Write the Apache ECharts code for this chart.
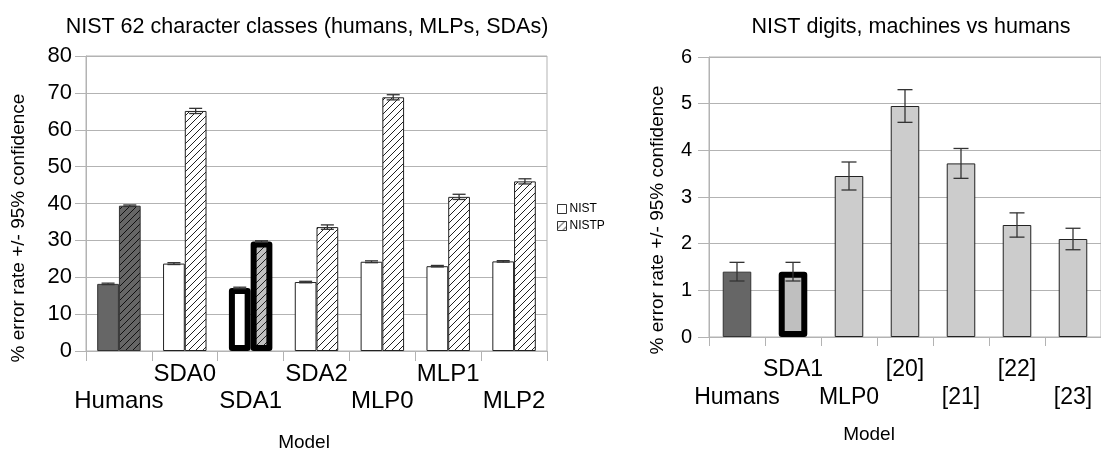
<!DOCTYPE html>
<html>
<head>
<meta charset="utf-8">
<script src="https://cdn.jsdelivr.net/npm/echarts@6/dist/echarts.min.js"></script>
<style>
html,body{margin:0;padding:0;background:#fff;}
#c{width:1101px;height:455px;}
</style>
</head>
<body>
<div id="c"></div>
<script>
// ---- data ----
const leftCategories = ['Humans','SDA0','SDA1','SDA2','MLP0','MLP1','MLP2'];
const nistValues  = [18.2, 23.7, 17.1, 18.7, 24.2, 23.0, 24.3];
const nistErr     = [0.2, 0.25, 0.2, 0.2, 0.25, 0.2, 0.2];
const nistpValues = [39.4, 65.1, 29.7, 33.6, 68.8, 41.8, 46.0];
const nistpErr    = [0.2, 0.7, 0.2, 0.6, 0.7, 0.7, 0.7];
const yLeftTicks  = [0,10,20,30,40,50,60,70,80];

const rightCategories = ['Humans','SDA1','MLP0','[20]','[21]','[22]','[23]'];
const digitValues = [1.4, 1.4, 3.45, 4.95, 3.72, 2.4, 2.1];
const digitErr    = [0.2, 0.2, 0.3, 0.35, 0.32, 0.26, 0.23];
const yRightTicks = [0,1,2,3,4,5,6];

const FONT = 'Liberation Sans, Arial, sans-serif';

function hatch(bg, fg) {
  const s = 7;
  const c = document.createElement('canvas');
  c.width = s; c.height = s;
  const g = c.getContext('2d');
  g.fillStyle = bg; g.fillRect(0,0,s,s);
  g.strokeStyle = fg; g.lineWidth = 1;
  g.beginPath();
  g.moveTo(0, s); g.lineTo(s, 0);
  g.moveTo(-1, 1); g.lineTo(1, -1);
  g.moveTo(s-1, s+1); g.lineTo(s+1, s-1);
  g.stroke();
  return {image: c, repeat: 'repeat'};
}

const whiteHatch = hatch('#ffffff', '#222222');
const darkHatch  = hatch('#666666', '#111111');
const greyHatch  = hatch('#c0c0c0', '#222222');

function styledNist(v, i) {
  if (i === 0) return {value: v, itemStyle: {color: '#666666', borderColor: '#333', borderWidth: 1}};
  if (i === 2) return {value: v, itemStyle: {color: '#ffffff', borderColor: '#000', borderWidth: 6, borderJoin: 'round'}};
  return v;
}
function styledNistp(v, i) {
  if (i === 0) return {value: v, itemStyle: {color: darkHatch, borderColor: '#333', borderWidth: 1}};
  if (i === 2) return {value: v, itemStyle: {color: greyHatch, borderColor: '#000', borderWidth: 6, borderJoin: 'round'}};
  return v;
}
function styledDigit(v, i) {
  if (i === 0) return {value: v, itemStyle: {color: '#666666', borderColor: '#333', borderWidth: 1}};
  if (i === 1) return {value: v, itemStyle: {color: '#bfbfbf', borderColor: '#000', borderWidth: 6, borderJoin: 'round'}};
  return v;
}

function errRenderer(offsetFrac, capHalf) {
  return function (params, api) {
    const i = api.value(0), lo = api.value(1), hi = api.value(2);
    const band = api.size([1, 0])[0];
    const pLo = api.coord([i, lo]), pHi = api.coord([i, hi]);
    const x = pLo[0] + offsetFrac * band;
    const st = {stroke: '#333', lineWidth: 1.3};
    return {type: 'group', children: [
      {type: 'line', shape: {x1: x, y1: pLo[1], x2: x, y2: pHi[1]}, style: st},
      {type: 'line', shape: {x1: x - capHalf, y1: pHi[1], x2: x + capHalf, y2: pHi[1]}, style: st},
      {type: 'line', shape: {x1: x - capHalf, y1: pLo[1], x2: x + capHalf, y2: pLo[1]}, style: st}
    ]};
  };
}
function errData(vals, errs) { return vals.map((v, i) => [i, v - errs[i], v + errs[i]]); }

const leftGap = 0.34;
const leftOff = (1 - leftGap) / 4;

const labelFormatter = (val, idx) => (idx % 2 === 0 ? '\n' + val : val);

const axisGrey = '#b3b3b3';

const option = {
  animation: false,
  backgroundColor: '#fff',
  textStyle: {fontFamily: FONT},
  title: [
    {text: 'NIST 62 character classes (humans, MLPs, SDAs)', left: 302, top: 11, textAlign: 'center',
     textStyle: {fontFamily: FONT, fontSize: 21.5, fontWeight: 'normal', color: '#000'}},
    {text: 'NIST digits, machines vs humans', left: 906, top: 11, textAlign: 'center',
     textStyle: {fontFamily: FONT, fontSize: 21.5, fontWeight: 'normal', color: '#000'}}
  ],
  legend: {
    data: ['NIST', 'NISTP'], orient: 'vertical', left: 552, top: 198,
    icon: 'rect', itemWidth: 9, itemHeight: 9, itemGap: 5,
    itemStyle: {borderWidth: 1, borderColor: '#333'},
    textStyle: {fontFamily: FONT, fontSize: 12, color: '#000', padding: [0,0,0,-2]}
  },
  grid: [
    {left: 86, top: 56, width: 461, height: 295, show: true, borderColor: axisGrey, borderWidth: 1},
    {left: 709, top: 57, width: 403, height: 280, show: true, borderColor: axisGrey, borderWidth: 1}
  ],
  xAxis: [
    {type: 'category', gridIndex: 0, data: leftCategories,
     axisLine: {lineStyle: {color: axisGrey}},
     axisTick: {show: true, length: 10, lineStyle: {color: axisGrey}},
     axisLabel: {interval: 0, formatter: labelFormatter, fontFamily: FONT, fontSize: 24, color: '#000', lineHeight: 27, margin: 10}},
    {type: 'category', gridIndex: 1, data: rightCategories,
     axisLine: {lineStyle: {color: axisGrey}},
     axisTick: {show: true, length: 9, lineStyle: {color: axisGrey}},
     axisLabel: {interval: 0, formatter: labelFormatter, fontFamily: FONT, fontSize: 23, color: '#000', lineHeight: 28, margin: 19}}
  ],
  yAxis: [
    {type: 'value', gridIndex: 0, min: yLeftTicks[0], max: yLeftTicks[yLeftTicks.length - 1], interval: yLeftTicks[1] - yLeftTicks[0],
     axisLine: {show: true, lineStyle: {color: axisGrey}},
     axisTick: {show: true, length: 11, lineStyle: {color: axisGrey}},
     splitLine: {lineStyle: {color: axisGrey}},
     axisLabel: {fontFamily: FONT, fontSize: 22, color: '#000', margin: 14}},
    {type: 'value', gridIndex: 1, min: yRightTicks[0], max: yRightTicks[yRightTicks.length - 1], interval: yRightTicks[1] - yRightTicks[0],
     axisLine: {show: true, lineStyle: {color: axisGrey}},
     axisTick: {show: true, length: 11, lineStyle: {color: axisGrey}},
     splitLine: {lineStyle: {color: axisGrey}},
     axisLabel: {fontFamily: FONT, fontSize: 20, color: '#000', margin: 17}}
  ],
  graphic: [
    {type: 'text', x: 19, y: 228, rotation: Math.PI / 2,
     style: {text: '% error rate +/- 95% confidence', font: '19px ' + FONT, fill: '#000', align: 'center', verticalAlign: 'middle'}},
    {type: 'text', x: 658, y: 220, rotation: Math.PI / 2,
     style: {text: '% error rate +/- 95% confidence', font: '19px ' + FONT, fill: '#000', align: 'center', verticalAlign: 'middle'}},
    {type: 'text', x: 304, y: 443,
     style: {text: 'Model', font: '19px ' + FONT, fill: '#000', align: 'center', verticalAlign: 'middle'}},
    {type: 'text', x: 869, y: 435,
     style: {text: 'Model', font: '19px ' + FONT, fill: '#000', align: 'center', verticalAlign: 'middle'}}
  ],
  series: [
    {name: 'NIST', type: 'bar', xAxisIndex: 0, yAxisIndex: 0, barGap: '0%', barCategoryGap: (leftGap * 100) + '%',
     itemStyle: {color: '#ffffff', borderColor: '#222', borderWidth: 1},
     data: nistValues.map(styledNist)},
    {name: 'NISTP', type: 'bar', xAxisIndex: 0, yAxisIndex: 0, barGap: '0%', barCategoryGap: (leftGap * 100) + '%',
     itemStyle: {color: whiteHatch, borderColor: '#222', borderWidth: 1},
     data: nistpValues.map(styledNistp)},
    {name: 'NIST err', type: 'custom', xAxisIndex: 0, yAxisIndex: 0, z: 5,
     renderItem: errRenderer(-leftOff, 6.5), data: errData(nistValues, nistErr)},
    {name: 'NISTP err', type: 'custom', xAxisIndex: 0, yAxisIndex: 0, z: 5,
     renderItem: errRenderer(leftOff, 6.5), data: errData(nistpValues, nistpErr)},
    {name: 'Digits', type: 'bar', xAxisIndex: 1, yAxisIndex: 1, barCategoryGap: '49%',
     itemStyle: {color: '#cccccc', borderColor: '#222', borderWidth: 1},
     data: digitValues.map(styledDigit)},
    {name: 'Digits err', type: 'custom', xAxisIndex: 1, yAxisIndex: 1, z: 5,
     renderItem: errRenderer(0, 7.5), data: errData(digitValues, digitErr)}
  ]
};

const chart = echarts.init(document.getElementById('c'), null, {renderer: 'canvas'});
chart.setOption(option);
</script>
</body>
</html>
